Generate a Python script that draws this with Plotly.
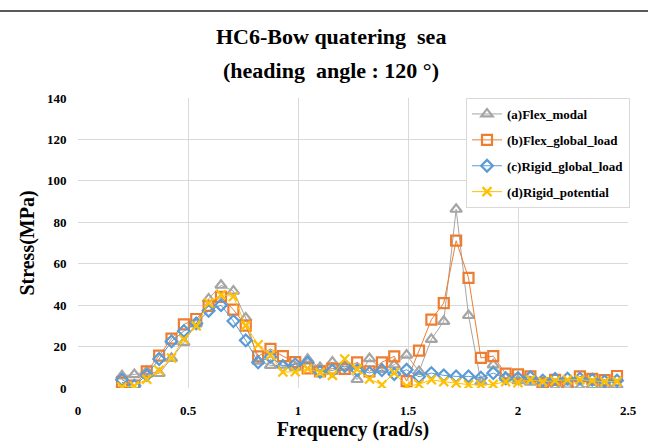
import plotly.graph_objects as go

freq = [round(0.2 + k * 0.05625, 5) for k in range(41)]

flex_modal = [5.9, 6.5, 8.0, 7.0, 14.3, 22.0, 31.0, 43.0, 49.6, 46.8, 33.8, 13.0, 10.9, 11.0, 10.0, 13.8, 9.9, 12.5, 10.0, 4.1,
              14.2, 9.0, 11.2, 15.9, 8.0, 23.5, 32.2, 86.3, 35.0, 3.0, 11.2, 5.0, 3.5, 2.8, 1.5, 0.2, 1.0, 0.2, 1.2, 1.2, 1.4]
flex_global = [2.7, 1.1, 8.0, 15.6, 23.8, 30.7, 33.3, 39.6, 44.0, 37.8, 30.1, 15.3, 18.9, 15.4, 12.5, 9.5, 8.0, 9.4, 9.2, 12.4,
               8.0, 12.4, 15.3, 3.3, 18.0, 33.0, 41.0, 71.1, 53.2, 14.5, 15.4, 6.9, 6.6, 5.6, 2.4, 3.9, 1.8, 5.6, 4.4, 3.8, 5.8]
rigid_global = [4.0, 1.1, 6.3, 14.0, 22.5, 27.5, 31.2, 37.3, 40.0, 32.3, 23.0, 12.4, 15.0, 10.6, 11.4, 12.2, 7.8, 8.4, 10.6, 8.6,
                7.3, 8.6, 6.7, 8.8, 5.4, 7.2, 6.1, 5.6, 5.6, 5.0, 7.2, 4.7, 4.8, 5.2, 3.6, 4.4, 4.5, 4.5, 4.0, 3.2, 3.6]
rigid_potential = [0.5, 1.0, 4.2, 8.5, 14.5, 23.5, 30.0, 41.0, 45.0, 44.2, 30.1, 20.9, 15.9, 7.7, 7.8, 9.3, 7.5, 6.1, 14.0, 9.0,
                   4.3, 1.6, 7.2, 0.9, 1.8, 4.0, 3.0, 2.4, 1.6, 1.6, 1.8, 3.0, 2.6, 4.0, 3.0, 3.5, 4.0, 4.0, 3.5, 3.0, 3.2]

series_names = ["(a)Flex_modal", "(b)Flex_global_load", "(c)Rigid_global_load", "(d)Rigid_potential"]
series_values = [flex_modal, flex_global, rigid_global, rigid_potential]
colors = ["#A5A5A5", "#ED7D31", "#5B9BD5", "#FFC000"]
symbols = ["triangle-up-open", "square-open", "diamond-open", "x-thin-open"]
sizes = [10, 10, 9, 9]

fig = go.Figure()
for i, (name, vals) in enumerate(zip(series_names, series_values)):
    fig.add_trace(go.Scatter(
        x=freq, y=vals, name=name, mode="lines+markers",
        legendgroup=f"g{i}",
        line=dict(color=colors[i], width=1),
        marker=dict(symbol=symbols[i], size=sizes[i], color=colors[i],
                    line=dict(color=colors[i], width=2.2)),
    ))

serif = "Liberation Serif"
W, H = 648, 443
ML, MR, MT, MB = 78, 20, 98, 55
plot_h = H - MT - MB
plot_w = W - ML - MR


def py(pix):
    return (H - MB - pix) / plot_h


def px(pix):
    return (pix - ML) / plot_w


fig.update_layout(
    width=W, height=H,
    margin=dict(l=ML, r=MR, t=MT, b=MB, autoexpand=False),
    paper_bgcolor="white", plot_bgcolor="white",
    font=dict(family=serif, color="#000000"),
    showlegend=True,
    legend=dict(
        x=px(466), y=1.0, xanchor="left", yanchor="top",
        bgcolor="white", bordercolor="#D9D9D9", borderwidth=1,
        font=dict(family=serif, size=13, color="#000000", weight="bold"),
        tracegroupgap=6,
        itemwidth=30,
    ),
    xaxis=dict(
        range=[0, 2.5], tickvals=[0, 0.5, 1, 1.5, 2, 2.5],
        ticktext=["0", "0.5", "1", "1.5", "2", "2.5"],
        showgrid=True, gridcolor="#D9D9D9", gridwidth=1,
        zeroline=False, showline=False,
        ticks="outside", ticklen=10, tickcolor="rgba(0,0,0,0)",
        tickfont=dict(family=serif, size=13, color="#000000", weight="bold"),
        title=dict(text="<b>Frequency (rad/s)</b>", font=dict(family=serif, size=20), standoff=4),
    ),
    yaxis=dict(
        range=[0, 140], tickvals=[0, 20, 40, 60, 80, 100, 120, 140],
        showgrid=True, gridcolor="#D9D9D9", gridwidth=1,
        zeroline=False, showline=False,
        ticks="outside", ticklen=8, tickcolor="rgba(0,0,0,0)",
        tickfont=dict(family=serif, size=13, color="#000000", weight="bold"),
        title=dict(text="<b>Stress(MPa)</b>", font=dict(family=serif, size=20), standoff=6),
    ),
    annotations=[
        dict(text="<b>HC6-Bow quatering  sea</b>", x=px(331), y=py(37), xref="paper", yref="paper",
             yanchor="middle", showarrow=False, font=dict(family=serif, size=22)),
        dict(text="<b>(heading  angle : 120 °)</b>", x=px(331), y=py(70), xref="paper", yref="paper",
             yanchor="middle", showarrow=False, font=dict(family=serif, size=22)),
    ],
    shapes=[dict(type="line", xref="paper", yref="paper", x0=px(0), x1=px(648), y0=py(11), y1=py(11),
                 line=dict(color="#222222", width=1.5))],
)

fig.write_html("out.html", config={"displayModeBar": False},
               post_script="document.body.style.margin='0';document.body.style.overflow='hidden';")
